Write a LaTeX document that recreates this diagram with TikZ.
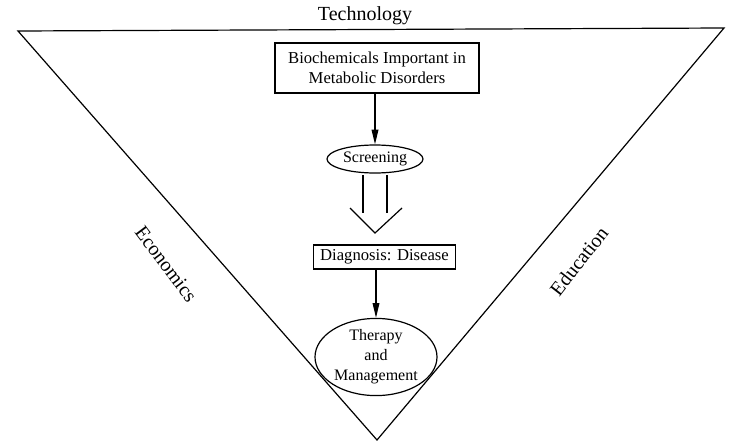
\documentclass[tikz,border=0pt]{standalone}
\usepackage{fontspec}
\setmainfont{Liberation Serif}
\usetikzlibrary{arrows.meta,shapes.geometric}

\tikzset{every picture/.style={line width=0.9pt}}
\tikzset{
  box/.style={draw, align=center, inner sep=1pt, font=\fontsize{12.5}{15}\selectfont},
  oval/.style={draw, ellipse, align=center, inner sep=0pt, font=\fontsize{12}{15}\selectfont},
  side/.style={font=\fontsize{15}{17}\selectfont},
  flow/.style={-{Triangle[length=11pt,width=5pt]}}
}

\begin{document}
\begin{tikzpicture}[x=0.75pt,y=0.75pt,yscale=-1,xscale=1]
\useasboundingbox (0,0) rectangle (730,446);

% Triangle
\coordinate (tl) at (18,31);
\coordinate (tr) at (724,28);
\coordinate (bt) at (377,440);
\draw (tl) -- (tr) -- (bt) -- cycle;

% Side labels
\node[side] (tech) at (365,16) {Technology};
\node[side, rotate=-53] (econ) at (166,264) {Economics};
\node[side, rotate=52] (educ) at (579,261) {Education};

% Flow nodes
\node[box, minimum width=153pt, minimum height=37.5pt] (bio) at (377,68) {Biochemicals Important in\\Metabolic Disorders};
\node[oval, minimum width=72pt, minimum height=21pt] (scr) at (375,159) {Screening};
\node[box, minimum width=106pt, minimum height=18pt] (diag) at (384.5,257) {Diagnosis: Disease};
\node[oval, minimum width=91.5pt, minimum height=55pt] (ther) at (376,357) {Therapy\\and\\Management};

% Arrows
\draw[flow] (bio.south -| scr.north) -- (scr.north);
\draw[flow] (diag.south -| ther.north) -- (ther.north);

% Double arrow
\coordinate (dtip) at (375,233);
\draw (363,175) -- (363,213);
\draw (387,175) -- (387,213);
\draw (350,208) -- (dtip) -- (402,208);

\end{tikzpicture}
\end{document}
